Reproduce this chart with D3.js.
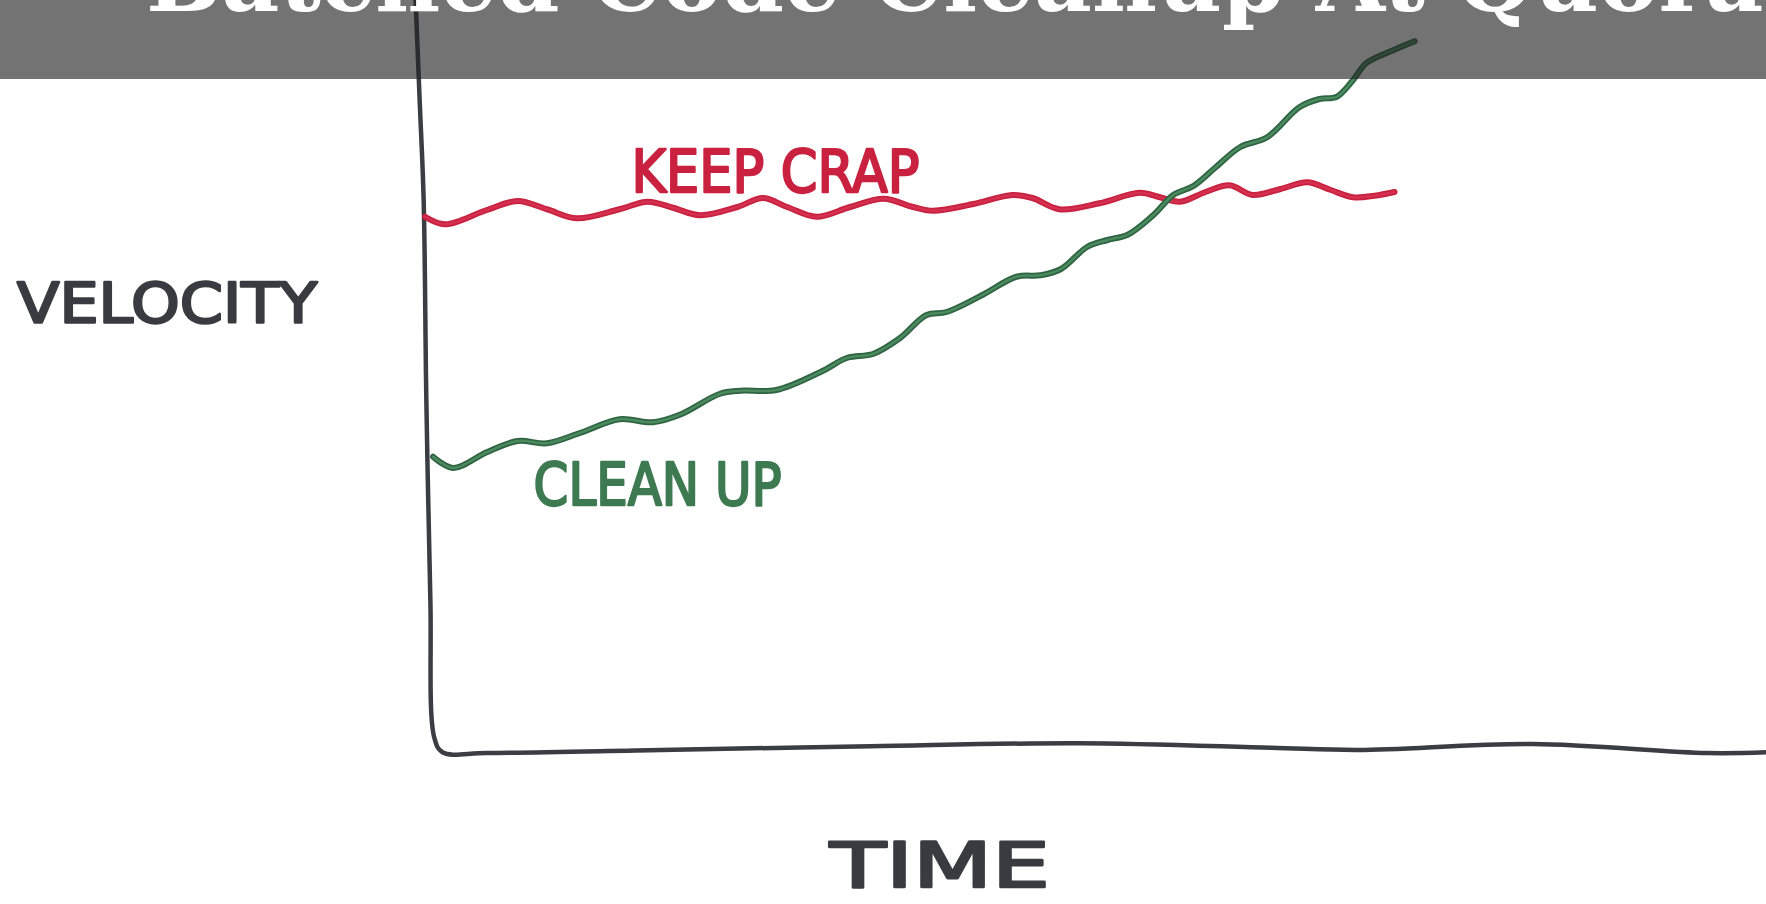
<!DOCTYPE html>
<html>
<head>
<meta charset="utf-8">
<title>Batched Code Cleanup At Quora</title>
<script src="https://d3js.org/d3.v7.min.js"></script>
<style>
  body { margin: 0; background: #fff; }
  svg { display: block; }
</style>
</head>
<body>
<div id="chart"></div>
<script>
// Sketch dimensions
var w = 1766;
var h = 904;
var barHeight = 79;

var titleText = "Batched Code Cleanup At Quora";
var xLabel = "TIME";
var yLabel = "VELOCITY";
var seriesNames = ["KEEP CRAP", "CLEAN UP"];
var seriesColors = ["#c9213f", "#3d7a51"];

// values (time 0-100, velocity 0-100)
var keepCrapTime = [0, 1.5, 4.6, 6.9, 9.1, 11.3, 14.5, 16.6, 18.5, 20.5, 23.3, 25.2, 27.0, 29.2, 31.7, 34.2, 36.4, 37.9, 40.9, 43.8,
  45.3, 47.3, 50.3, 53.3, 54.8, 56.3, 58.2, 60.0, 61.7, 63.8, 65.8, 67.5, 69.2, 70.8, 72.3];
var keepCrapVelocity = [71.1, 70.1, 72.0, 73.2, 72.1, 70.9, 72.1, 73.1, 72.3, 71.3, 72.4, 73.6, 72.4, 71.1, 72.4, 73.5, 72.4, 71.9, 72.8, 74.0,
  73.6, 72.1, 72.9, 74.3, 73.7, 73.1, 74.4, 75.3, 74.0, 74.8, 75.7, 74.7, 73.7, 73.9, 74.4];

var cleanUpTime = [0.6, 2.1, 4.6, 6.9, 9.1, 11.6, 14.5, 17.0, 19.0, 22.0, 23.5, 26.2, 29.5, 31.5, 33.4, 35.4, 37.4, 38.9, 41.6, 44.1,
  45.9, 47.4, 49.4, 50.9, 52.4, 54.3, 55.8, 57.3, 58.9, 60.8, 62.8, 65.2, 66.7, 68.0, 69.2, 70.2, 72.2, 73.8];
var cleanUpVelocity = [39.1, 37.6, 39.7, 41.2, 40.9, 42.3, 44.1, 43.7, 44.7, 47.5, 47.9, 48.0, 50.4, 52.3, 52.8, 54.9, 58.0, 58.4, 60.7, 63.1,
  63.3, 64.1, 67.1, 68.0, 68.7, 71.3, 74.0, 75.2, 77.6, 80.4, 81.7, 85.7, 86.8, 87.1, 89.3, 91.6, 93.3, 94.5];

// the hand drawn axes, one stroke from the top of the y axis round the corner
var axisTime = [-0.7, -0.4, -0.1, 0.1, 0.4, 0.7, 1.3, 4.6, 17.6, 33.2, 48.8, 63.1, 69.6, 82.6, 95.6, 100];
var axisVelocity = [100, 86.7, 73.3, 46.7, 20.0, 1.6, -0.3, -0.4, 0, 0.5, 0.9, 0.3, 0, 0.8, -0.4, -0.3];

function zipPoints(xs, ys) {
  return xs.map(function(x, i) { return { t: x, v: ys[i] }; });
}

function createLine(svg, data, xScale, yScale, color, inner) {
  const line = d3.line()
    .x(d => xScale(d.t))
    .y(d => yScale(d.v))
    .curve(d3.curveCatmullRom.alpha(0.5));

  svg.append("path")
    .datum(data)
    .attr("fill", "none")
    .attr("stroke", color)
    .attr("stroke-width", 6)
    .attr("stroke-linecap", "round")
    .attr("stroke-linejoin", "round")
    .attr("d", line);

  // lighter middle of the marker stroke
  if (inner) {
    svg.append("path")
      .datum(data)
      .attr("fill", "none")
      .attr("stroke", inner)
      .attr("stroke-width", 2.5)
      .attr("stroke-linecap", "round")
      .attr("d", line);
  }
}

function handLabel(svg, text, x, y, size, width, color) {
  svg.append("text")
    .attr("x", x)
    .attr("y", y)
    .attr("font-family", "DejaVu Sans")
    .attr("font-size", size + "px")
    .attr("fill", color)
    .attr("stroke", color)
    .attr("stroke-width", 2.4)
    .attr("stroke-linejoin", "round")
    .attr("textLength", width)
    .attr("lengthAdjust", "spacingAndGlyphs")
    .text(text);
}

function main() {
  const xScale = d3.scaleLinear()
    .domain([0, 100])
    .range([425, 1766]);

  const yScale = d3.scaleLinear()
    .domain([0, 100])
    .range([750, 0]);

  const svg = d3.select("#chart")
    .append("svg")
    .attr("width", w)
    .attr("height", h);

  svg.append("rect")
    .attr("width", w)
    .attr("height", h)
    .attr("fill", "#ffffff");

  // axes
  const axisLine = d3.line()
    .x(d => xScale(d.t))
    .y(d => yScale(d.v))
    .curve(d3.curveCatmullRom.alpha(0.5));

  svg.append("path")
    .datum(zipPoints(axisTime, axisVelocity))
    .attr("fill", "none")
    .attr("stroke", "#3a3d42")
    .attr("stroke-width", 4.5)
    .attr("stroke-linecap", "round")
    .attr("stroke-linejoin", "round")
    .attr("d", axisLine);

  createLine(svg, zipPoints(keepCrapTime, keepCrapVelocity), xScale, yScale, seriesColors[0], "#d4304f");
  createLine(svg, zipPoints(cleanUpTime, cleanUpVelocity), xScale, yScale, "#2f6443", "#4a8a5e");

  // series labels
  handLabel(svg, seriesNames[0], xScale(15.4), yScale(74.4), 58, 288, seriesColors[0]);
  handLabel(svg, seriesNames[1], xScale(8.1), yScale(32.7), 59, 248, seriesColors[1]);

  // axis titles
  handLabel(svg, yLabel, 17, 322, 55, 300, "#383b3f");
  handLabel(svg, xLabel, 830, 887, 62, 220, "#383b3f");

  // title bar laid over the sketch
  svg.append("rect")
    .attr("x", 0)
    .attr("y", 0)
    .attr("width", w)
    .attr("height", barHeight)
    .attr("fill", "#222222")
    .attr("opacity", 0.633);

  const title = svg.append("text")
    .attr("x", 146)
    .attr("y", 11)
    .attr("font-family", "DejaVu Serif")
    .attr("font-weight", "bold")
    .attr("font-size", "100px")
    .attr("fill", "#ffffff")
    .text(titleText);

  // fit so that "At" ends where it does in the picture
  const probe = svg.append("text")
    .attr("font-family", "DejaVu Serif")
    .attr("font-weight", "bold")
    .attr("font-size", "100px")
    .text("Batched Code Cleanup At");
  const probeWidth = probe.node().getComputedTextLength();
  probe.remove();
  title.attr("font-size", (100 * (1425 - 146) / probeWidth) + "px");
}

window.onload = function() {
  main();
};
</script>
</body>
</html>
